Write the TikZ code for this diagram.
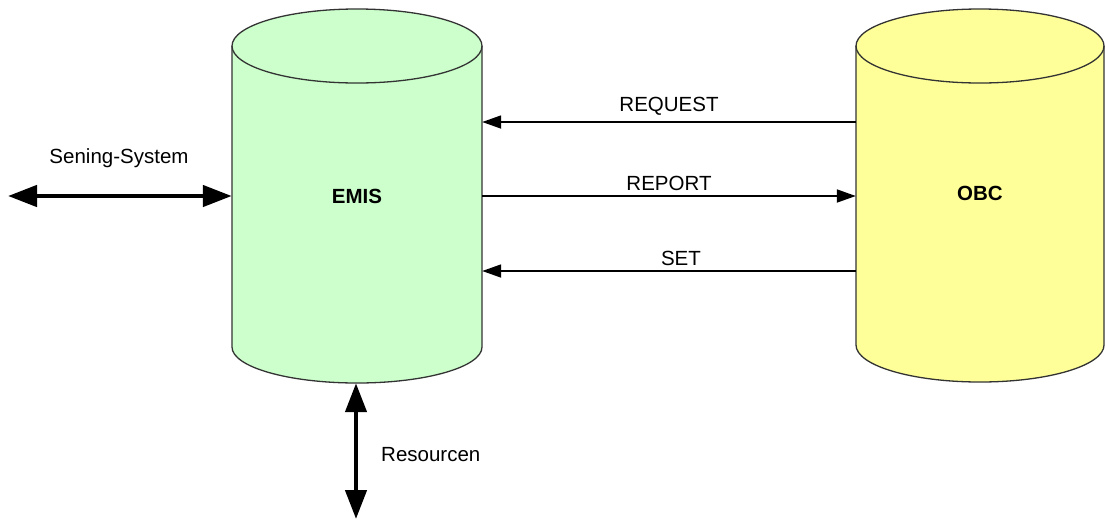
\documentclass[tikz,border=0pt]{standalone}
\usepackage{fontspec}
\setmainfont{Liberation Sans}
\usetikzlibrary{arrows.meta}
\definecolor{emisgreen}{RGB}{204,255,204}
\definecolor{obcyellow}{RGB}{255,255,153}
\begin{document}
\begin{tikzpicture}[x=1pt,y=-1pt,
  cyl/.style={draw=black!80,line width=1.3pt},
  lbl/.style={font=\fontsize{20.5}{24}\selectfont,inner sep=0pt},
  msg/.style={draw=black,line width=1.8pt,-{Triangle[length=19pt,width=13pt]}},
  bus/.style={draw=black,line width=4.5pt,{Triangle[length=29pt,width=21pt]}-{Triangle[length=29pt,width=21pt]}}]
\useasboundingbox (0,0) rectangle (1105,520);

% EMIS cylinder (y axis points down, so arcs run with negative angles for the top)
\path[cyl,fill=emisgreen] (232,46) -- (232,347) arc[start angle=180,end angle=0,x radius=125,y radius=36] -- (482,46) arc[start angle=0,end angle=-180,x radius=125,y radius=37] -- cycle;
\draw[cyl] (232,46) arc[start angle=180,end angle=0,x radius=125,y radius=37];
\node[minimum width=250pt,minimum height=337pt,inner sep=0pt] (emis) at (357,214.5) {};
\node[lbl,font=\fontsize{20.5}{24}\selectfont\bfseries] (emistxt) at (357,196) {EMIS};

% OBC cylinder
\path[cyl,fill=obcyellow] (856,46) -- (856,345) arc[start angle=180,end angle=0,x radius=124,y radius=37] -- (1104,46) arc[start angle=0,end angle=-180,x radius=124,y radius=37] -- cycle;
\draw[cyl] (856,46) arc[start angle=180,end angle=0,x radius=124,y radius=37];
\node[minimum width=248pt,minimum height=373pt,inner sep=0pt] (obc) at (980,195.5) {};
\node[lbl,font=\fontsize{20.5}{24}\selectfont\bfseries] (obctxt) at (980,193) {OBC};

% message arrows between the two systems
\coordinate (yreq) at (0,122);
\coordinate (yrep) at (0,196);
\coordinate (yset) at (0,271);
\draw[msg] (obc.west |- yreq) -- (emis.east |- yreq);
\draw[msg] (emis.east |- yrep) -- (obc.west |- yrep);
\draw[msg] (obc.west |- yset) -- (emis.east |- yset);
\node[lbl] (req) at (669,106) {REQUEST};
\node[lbl] (rep) at (669,183) {REPORT};
\node[lbl] (set) at (681,258) {SET};

% external interfaces
\coordinate (sens) at (8,196);
\coordinate (res) at (356,519);
\draw[bus] (sens) -- (emis.west |- sens);
\node[lbl] (senstxt) at (119,158) {Sening-System};
\draw[bus] (emis.south -| res) -- (res);
\node[lbl,anchor=west] (restxt) at (381,455) {Resourcen};
\end{tikzpicture}
\end{document}
